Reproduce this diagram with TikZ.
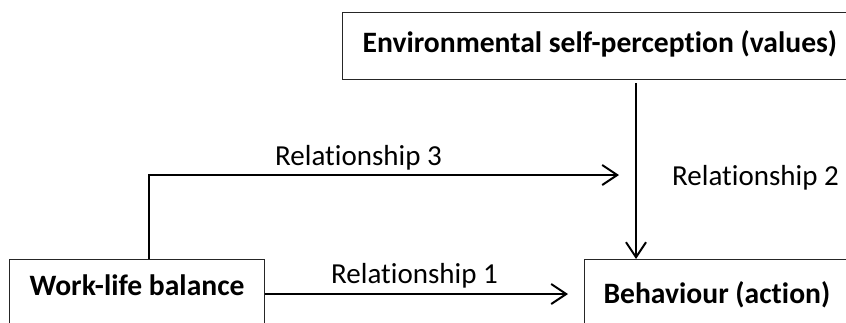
\documentclass[tikz,border=0pt]{standalone}
\usepackage{fontspec}
\setmainfont{Carlito}[Ligatures={NoCommon}]
\usetikzlibrary{arrows.meta}
\begin{document}
\begin{tikzpicture}[x=1pt,y=-1pt,
  box/.style={draw=black!85, line width=1.2pt, font=\fontsize{29.6}{34}\selectfont\bfseries},
  lbl/.style={font=\fontsize{29}{34}\selectfont, anchor=base, inner sep=0pt},
  arr/.style={line width=2pt, -{Straight Barb[length=15pt,width=20pt,line width=2pt]}}]
\useasboundingbox (0,0) rectangle (846,322);
% boxes
\node[box, anchor=north west, inner xsep=20pt, inner ysep=20pt, text height=20pt, text depth=7pt,
      text width=500pt, align=flush left] (env) at (342,12) {Environmental self-perception (values)};
\node[box, anchor=north west, inner xsep=0pt, inner ysep=16pt, text height=20pt, text depth=30pt,
      minimum width=255pt, align=center] (wl) at (9,259) {Work-life balance};
\node[box, anchor=north west, inner xsep=19pt, inner ysep=24pt, text height=20pt, text depth=30pt,
      text width=300pt, align=flush left] (beh) at (584,259) {Behaviour (action)};
% helper coordinates
\coordinate (c2) at (636,0);
\coordinate (r3x) at (149,0);
\coordinate (r3end) at (619,175);
\coordinate (r1end) at (568,294);
% connectors
\draw[arr, shorten <=3pt] (env.south -| c2) -- (beh.north -| c2);
\draw[arr] (wl.north -| r3x) |- (r3end);
\draw[arr] (wl.east |- r1end) -- (r1end);
% labels
\node[lbl] (l3) at (358.5,165) {Relationship 3};
\node[lbl] (l2) at (755.5,185) {Relationship 2};
\node[lbl] (l1) at (414.5,283) {Relationship 1};
\end{tikzpicture}
\end{document}
